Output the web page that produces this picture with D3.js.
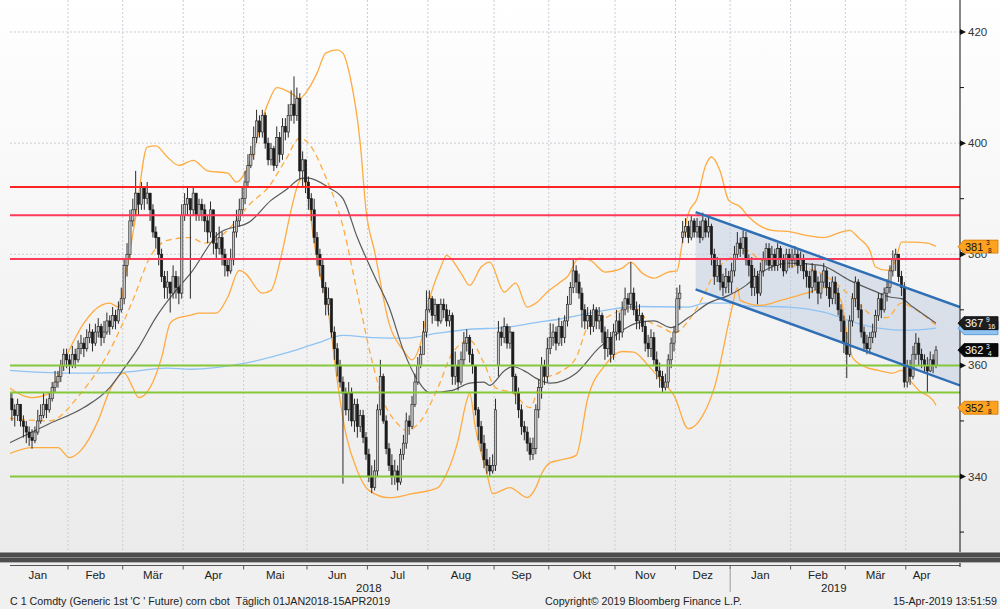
<!DOCTYPE html>
<html><head><meta charset="utf-8">
<script src="https://cdn.jsdelivr.net/npm/d3@7"></script>
<style>
html,body{margin:0;padding:0;background:#f0f0f0;}
svg{display:block;font-family:"Liberation Sans",Arial,sans-serif;}
</style>
</head><body>
<svg id="c" width="1000" height="609"></svg>
<script>
// ---------------- DATA ----------------
const monthLabels = ["Jan","Feb","Mär","Apr","Mai","Jun","Jul","Aug","Sep","Okt","Nov","Dez","Jan","Feb","Mär","Apr"];
const monthDays   = [21,19,21,21,22,21,21,23,19,23,21,19,21,19,21,11];   // trading days per month
const yearLabels  = ["2018","2019"];
const yearMonths  = [12,4];                                             // months belonging to each year

const closes = [
 // Jan 18
 354,352,351,353,350,349,348,347,346.5,348,350,351,353,352,354,356,357,358,360,362,361,
 // Feb
 360,362,361,363,364,363,365,366,364,366,367,365,366,368,367,369,368,370,372,
 // Mar
 378,380,386,388,391,389,392,390,391,388,384,383,380,376,374,375,373,376,374,373,387,
 // Apr
 389,390,388,391,387,389,388,386,384,388,382,381,383,380,378,377,379,384,386,388,390,
 // Mai
 393,396,398,401,404,402,405,400,397,399,396,401,398,403,402,405,407,405,408,395,397,393,
 // Jun
 390,388,383,380,378,374,371,372,366,363,360,357,355,352,355,350,353,349,351,347,344,
 // Jul
 340,338,341,352,358,350,345,342,340,341,339,344,346,350,349,353,357,360,362,366,370,
 // Aug
 372,369,371,368,371,370,368,369,358,360,357,361,364,365,362,360,352,349,346,343,342,341,342,
 // Sep
 352,366,365,367,364,366,358,355,352,349,348,346,344,345,352,356,360,358,363,
 // Okt
 365,366,364,367,365,368,371,374,377,375,373,370,368,369,367,370,368,369,366,363,365,362,366,
 // Nov
 368,366,370,372,371,373,370,368,369,367,364,363,365,361,359,358,356,357,361,364,366,
 // Dez
 372,373,384,385,383,386,384,385,383,386,384,385,380,376,378,375,374,376,375,
 // Jan 19
 377,380,382,381,383,379,378,374,376,373,377,379,381,378,380,378,381,379,377,380,379,
 // Feb
 379,380,378,379,377,376,374,377,375,373,375,377,374,372,375,373,370,368,364,
 // Mär
 362,368,372,375,370,366,364,363,365,366,369,372,370,373,374,377,379,380,376,374,357,
 // Apr
 360,358,362,364,362,361,360,359,361,360,362.75
];
const highs = [
 356,355,353,354,353,351,350,349,348.5,349,352,353,355,354,355,357,359,359,361,363,363,
 362,363.5,363,364.5,365.5,365,366.5,367.5,366.5,367.5,368.5,367.5,368,369.5,369,370.5,370,371.5,374,
 379,382,388,390,395,391,393,392,393,390,389,385,383,381,377,377,375,378,377,376,389,
 391,392,390,392,391,390,390,389,387,389.5,388,384,385,384,381,379,381,386,388,390,392,
 395,398,399.5,403,406,405,406,405.5,401,400,399.5,403,402,404.5,404.5,407,409.5,412,410,409,398.5,397,
 394,391,390,384,381,379,375,374,372,367,364,361,358,356,357,356,354,354,352,352,348,
 345,342,343,353,361,358.5,351,346,344,343,342,345,347.5,351.5,351,354.5,358.5,361.5,363.5,368,373.5,
 373.5,372.5,372,371,372,372,371,370,369.5,362.5,361,362.5,366,366.5,365.5,363,360,352.5,350,347.5,345,343.5,344,
 354,368,367,368.6,367.5,367,366,358.5,356,353,350,349,347,347,353,357.5,361.5,361,365,
 367.6,367.5,367,368.6,368,369,372.5,375,379.3,378,376.5,374,371,370.5,370,371,370.5,370.5,369.5,367,366.5,366,367.5,
 370,369.5,371.5,374,373,378.6,374,371.5,371,369.5,368,365.5,366.5,366,362.5,360.5,359,358.5,362,365,367,
 374,374.5,386,386.5,386,387,386.5,386.5,386,387.5,386.5,387,385.5,381,379.5,379,376.5,377.5,377,
 378.5,381.5,384,383,384.3,384,380,379.5,377.5,377,378.5,380.5,382,382,381.5,381,382,381.5,380,381,381,
 381,381.5,381,380.5,380,378.4,377,378.4,378,376,376.5,378.4,377.5,375,376,376,374,371,369,
 366,369,373,376,375.5,371,367,365.5,366,367.5,370,373,373,374,375.5,378,380.7,381,380,377,375,
 361,361,363.5,365.8,365,363,362,361.5,362.5,362,363.5
];
const lows = [
 352,350,349,350,349,347,346,345.5,345,346,347.5,349.5,350.5,350.5,351.5,353.5,355,356,357,359,359.5,
 358.5,359.5,359.5,360.5,362,361.5,362.5,364,362.5,363.5,365,363.5,364,365.5,365.5,366.5,366.5,367.5,369.5,
 371,376,379,385,387,387,388,388,389,386,383,381,378,375,372,372,369.5,372,372,371,372,
 386,387,372,387,386,386,386,384,382,383,380,379,380,378,376,376,376.5,378,383,385,387,
 389,392,395.5,397,400,401,401,399,396,396,395,395.5,396.5,397,400.5,401,404,403.5,404,393.5,392,391,
 388,386,382,378,376,373,369,369,365,361,358,356,338.7,351,350,349,348,347,348,346,343,
 339,337,337.5,340,351,349.5,344,341,338.5,338.5,337.5,338.5,343,345,347.5,348.5,352.5,356.5,359.5,362,365,
 369.5,367.5,368,367,367.5,368.5,367,367,356.5,356.5,355.5,356.5,360,362.5,360.5,358.5,351,346.5,344.5,341.5,340.5,340,340.5,
 341,358,363.5,364,363,363,355,353,350.5,347.5,346.5,344.5,342.9,343,344,350.5,354,356.5,357,
 362,363.5,362.7,363.5,363.5,364,367,371,373,373,372,366.8,366.5,366.5,365.5,366,366.5,366.5,364,361,361.5,360.5,361,
 364.5,364.5,365,369,369.5,370,369,366.5,366.5,366,362.5,361.5,361.5,360,357.5,356,355.2,355.5,356,359.5,362.5,
 366,370,382,383,382,382.5,383,383,382,382.5,383,383,378,374.5,375,373.5,372.5,373,373,
 373,376,379,379.5,380,378,376,372.5,372.5,371,372.5,376,378,377,377,377,377,377.5,376,376.5,377.5,
 377.5,378,376.5,377,375.5,374,372,373,373.5,371,372,374,372.5,370.5,371,371,369,366,362.2,
 357.7,361.5,367,370.5,368.5,365,362.5,362,362,364,365,368,368.5,369.5,371.5,373,376,377,375,372.5,356,
 356,356.5,357.5,361,360,359.5,358.6,355,358.8,358.6,359.5
];
const openGaps = [[0,355],[170,360],[234,383]];   // [day index, opening price] where open != previous close

// indicators: [day index, value]
const ma50 = [[0,346],[14,349.5],[26,352.4],[35,356],[40,359.5],[45,363.2],[51,368.6],[58,373.5],[63,376.5],[73,383.8],[84,386],[91,389.7],[96,391.5],[102,393.7],[104,393.7],[111,392],[116,390],[121,383],[127,376],[132,370.5],[137,362.7],[142,357.3],[146,355.1],[154,355.5],[160,356.8],[165,357],[167,356.4],[172,359],[175,359.8],[180,358.7],[183,357.7],[188,356.8],[197,358.6],[205,363.2],[213,366.3],[218,367.6],[224,368],[230,366.8],[236,368.6],[243,371.2],[250,372.6],[256,374.4],[261,376.6],[271,378.4],[282,378],[292,375.3],[300,373.5],[306,372.3],[310,372],[314,370.5],[322,367.6]];
const ma200 = [[0,359.1],[20,358.6],[38,358.7],[55,359.5],[63,359.3],[82,360.4],[96,362.2],[107,364],[116,365.4],[127,365],[137,364.9],[149,365.8],[160,366.5],[172,366.8],[183,367.7],[191,368.3],[207,369.9],[218,370.6],[236,370.5],[242,371.2],[250,371.2],[256,370.7],[271,370.5],[283,369.6],[294,367.7],[302,366.7],[312,366.3],[322,366.7]];
const bbMid = [[0,350.5],[14,350],[25,355],[35,362.7],[43,371.7],[49,379.5],[55,382.5],[63,383],[68,382],[73,383],[77,384.9],[84,389.2],[90,392],[96,396.9],[101,400.9],[104,400],[110,393.9],[116,385],[121,373],[126,361],[130,353.7],[135,349.5],[138,348.3],[143,350],[149,356],[154,362.2],[160,364.5],[165,360.4],[169,356],[175,355],[181,352.4],[185,357.3],[191,358.7],[197,361.4],[201,366.8],[207,368.5],[213,370],[217,370.5],[222,368],[227,366.8],[231,365.8],[236,368],[241,372.3],[245,376.6],[251,379.5],[256,380.7],[261,379],[271,378],[282,376.6],[289,374],[295,371.2],[300,369],[305,368.6],[310,371.2],[315,370],[322,367.2]];
const bbUpper = [[0,356],[8,354.2],[14,355],[20,361.8],[26,367.6],[32,370.8],[35,371.2],[38,370.5],[41,377.7],[44,386.7],[48,399.3],[51,399.5],[55,397.5],[59,396],[64,396.9],[69,395],[76,394.6],[79,393],[83,395.7],[90,407.2],[93,410],[98,409],[101,408],[103,409],[107,412.6],[110,416.2],[114,416.8],[116,416.2],[118.5,411.9],[122,400],[124,388],[127,380.5],[132,367.6],[137,362.7],[140,361],[143,364],[146,371.7],[150,377.7],[152,379.8],[157,376.6],[160,374.4],[164,377.7],[167,378.6],[172,373.2],[176,374.8],[180,370.5],[183,371.2],[187,373.2],[191,374.8],[194,376],[198,379.3],[202,378.9],[207,376.8],[213,377.5],[216,378.6],[220,376.6],[224,375.7],[229,376.8],[232,377],[234,382.5],[236,387.4],[239,390],[242,396],[244,397.5],[247,395],[250,389.7],[254,388.5],[257,386.7],[265,384.3],[272,384],[277,383.4],[283,383],[289,384],[292,384.3],[295,383],[299,380.7],[301,377.7],[305,377.1],[308,378.9],[310,382.2],[314,382.2],[319,382],[322,381.4]];
const bbLower = [[0,344.1],[8,345.2],[17,345.2],[21,343.4],[25,344.7],[31,350.1],[35,355.5],[40,358.6],[43,356],[45,354.2],[49,356],[53,361.4],[56,367.6],[59,368.6],[63,369],[66,369.4],[72,369.4],[76,372.3],[80,377.1],[82,376.6],[88,373],[91,373.5],[95,380.7],[98,388],[101,393.3],[102,393.7],[104,391.5],[105,386],[107,379],[111,369.4],[114,357.3],[117,347.7],[121,341],[125,337.5],[132,336.2],[140,336.9],[149,338],[152,340.5],[156,346.5],[159,353.7],[160,355],[162,348.8],[166,340.5],[168,336.9],[174,338],[180,336.2],[183,338],[185,340.5],[188,342.5],[191,342.9],[197,343.8],[201,354],[207,360],[213,362.5],[217,362.4],[222,360],[227,357],[231,354.6],[236,348.6],[241,351],[245,356],[251,370],[253,374],[254,371.7],[261,370.8],[268,371.7],[277,373],[284,374],[289,371.7],[291,365.8],[293,361.4],[298,359.6],[302,359.1],[307,358.6],[310,359.1],[313,357.3],[316,355.5],[321,353.7],[322,352.8]];

const redLevels   = [392.1, 387.0, 379.15];
const greenLevels = [360.0, 355.1, 340.0];
const channelDays  = [238.5, 330.3];
const channelUpper = [387.6, 370.5];
const channelLower = [373.7, 356.4];

const axisTicks  = [340,360,380,400,420];
const minorTicks = [330,350,370,390,410];

const tagValues = [381.375, 366.7, 367.6, 362.75, 352.375];
const tagInts   = ["381","","367","362","352"];
const tagNum    = ["3","","9","3","3"];
const tagDen    = ["8","","16","4","8"];
const tagKinds  = ["orange","blue","dark","black","orange"];

const footerLeft   = "C 1 Comdty (Generic 1st 'C ' Future) corn cbot\u00a0\u00a0Täglich 01JAN2018-15APR2019";
const footerMiddle = "Copyright© 2019 Bloomberg Finance L.P.";
const footerRight  = "15-Apr-2019 13:51:59";

// ---------------- CHART ----------------
const W = 1000, H = 609;
const plot = {left: 10, right: 960, top: 0, bottom: 551};
const N = closes.length;
const x = d3.scaleLinear().domain([0, N - 1]).range([9, 936]);
const y = d3.scaleLinear().domain([340, 420]).range([476.5, 32]);
const step = x(1) - x(0);

const svg = d3.select("#c");
const defs = svg.append("defs");
const grad = defs.append("linearGradient").attr("id","bg").attr("x1",0).attr("y1",0).attr("x2",0).attr("y2",1);
grad.append("stop").attr("offset","0%").attr("stop-color","#ffffff");
grad.append("stop").attr("offset","8%").attr("stop-color","#fdfdfd");
grad.append("stop").attr("offset","100%").attr("stop-color","#ebebeb");
defs.append("clipPath").attr("id","clip").append("rect")
  .attr("x",plot.left).attr("y",plot.top).attr("width",plot.right-plot.left).attr("height",plot.bottom-plot.top);

svg.append("rect").attr("width",W).attr("height",H).attr("fill","#f0f0f0");
svg.append("rect").attr("x",0).attr("y",0).attr("width",W).attr("height",plot.bottom).attr("fill","url(#bg)");

// month starts
const monthStart = [];
let acc = 0;
monthDays.forEach(d => { monthStart.push(acc); acc += d; });
const boundaryX = i => x(i) - step / 2;

const g = svg.append("g").attr("clip-path","url(#clip)");

// grid
g.selectAll(".vg").data(monthStart.slice(1)).join("line")
  .attr("x1",d=>boundaryX(d)).attr("x2",d=>boundaryX(d))
  .attr("y1",plot.top).attr("y2",plot.bottom)
  .attr("stroke","#c9cdd6").attr("stroke-width",1).attr("stroke-dasharray","2,2");
g.selectAll(".hg").data(axisTicks).join("line")
  .attr("x1",plot.left).attr("x2",plot.right).attr("y1",d=>y(d)).attr("y2",d=>y(d))
  .attr("stroke","#c9cdd6").attr("stroke-width",1).attr("stroke-dasharray","2,2");

// channel fill
const chPoly = [
  [x(channelDays[0]), y(channelUpper[0])],
  [x(channelDays[1]), y(channelUpper[1])],
  [x(channelDays[1]), y(channelLower[1])],
  [x(channelDays[0]), y(channelLower[0])]
];
g.append("path").attr("d","M" + chPoly.map(p=>p.join(",")).join("L") + "Z")
  .attr("fill","#b7c7de").attr("fill-opacity",0.45);

// indicator lines
const lineGen = d3.line().x(d=>x(d[0])).y(d=>y(d[1])).curve(d3.curveMonotoneX);
g.append("path").attr("d",lineGen(ma200)).attr("fill","none").attr("stroke","#8fc3f2").attr("stroke-width",1.3);
g.append("path").attr("d",lineGen(bbUpper)).attr("fill","none").attr("stroke","#ffab40").attr("stroke-width",1.3);
g.append("path").attr("d",lineGen(bbLower)).attr("fill","none").attr("stroke","#ffab40").attr("stroke-width",1.3);
g.append("path").attr("d",lineGen(bbMid)).attr("fill","none").attr("stroke","#ffab40").attr("stroke-width",1.3).attr("stroke-dasharray","6,4");
g.append("path").attr("d",lineGen(ma50)).attr("fill","none").attr("stroke","#5a5a5a").attr("stroke-width",1.2);

// candles
const gapMap = new Map(openGaps);
const candles = closes.map((c,i) => {
  const o = gapMap.has(i) ? gapMap.get(i) : closes[i-1];
  return {i, o, c, h: Math.max(highs[i], o, c), l: Math.min(lows[i], o, c)};
});
const cg = g.append("g");
cg.selectAll(".wick").data(candles).join("line")
  .attr("x1",d=>x(d.i)).attr("x2",d=>x(d.i)).attr("y1",d=>y(d.h)).attr("y2",d=>y(d.l))
  .attr("stroke","#2a2a2a").attr("stroke-width",1);
const bw = 2.3;
cg.selectAll(".body").data(candles).join("rect")
  .attr("x",d=>x(d.i)-bw/2).attr("width",bw)
  .attr("y",d=>y(Math.max(d.o,d.c)))
  .attr("height",d=>Math.max(1, Math.abs(y(d.o)-y(d.c))))
  .attr("fill",d=>d.c>=d.o ? "#c4c4c4" : "#1b1b1b")
  .attr("stroke","#1b1b1b").attr("stroke-width",0.6);

// horizontal levels
const redColors = ["#ff2424","#ff3a5a","#ff3a5a"];
g.selectAll(".red").data(redLevels).join("line")
  .attr("x1",plot.left).attr("x2",plot.right).attr("y1",d=>y(d)).attr("y2",d=>y(d))
  .attr("stroke",(d,i)=>redColors[i]).attr("stroke-width",2);
g.selectAll(".green").data(greenLevels).join("line")
  .attr("x1",plot.left).attr("x2",plot.right).attr("y1",d=>y(d)).attr("y2",d=>y(d))
  .attr("stroke","#86c83a").attr("stroke-width",2);

// channel borders
[channelUpper, channelLower].forEach(arr => {
  g.append("line")
    .attr("x1",x(channelDays[0])).attr("y1",y(arr[0]))
    .attr("x2",x(channelDays[1])).attr("y2",y(arr[1]))
    .attr("stroke","#2f6fb5").attr("stroke-width",2.4);
});

// right axis
svg.append("line").attr("x1",plot.right).attr("x2",plot.right).attr("y1",0).attr("y2",567)
  .attr("stroke","#111").attr("stroke-width",1);
svg.selectAll(".mt").data(minorTicks).join("line")
  .attr("x1",plot.right).attr("x2",plot.right+4).attr("y1",d=>y(d)).attr("y2",d=>y(d))
  .attr("stroke","#111");
svg.selectAll(".tri").data(axisTicks).join("path")
  .attr("d",d=>`M${plot.right},${y(d)-3}L${plot.right+6},${y(d)}L${plot.right},${y(d)+3}Z`)
  .attr("fill","#111");
svg.selectAll(".tl").data(axisTicks).join("text")
  .attr("x",plot.right+8).attr("y",d=>y(d)+4)
  .attr("font-size",11.5).attr("fill","#333").text(d=>d);

// price tags
const tagStyle = {
  orange: {fill:"#ffa21f", stroke:"#d07a00", text:"#111"},
  blue:   {fill:"#8fc3f2", stroke:"#4f8fd0", text:"#111"},
  dark:   {fill:"#1e1e1e", stroke:"#000", text:"#fff"},
  black:  {fill:"#0a0a0a", stroke:"#000", text:"#fff"}
};
tagValues.forEach((v,k) => {
  const st = tagStyle[tagKinds[k]];
  const cy = y(v);
  const tg = svg.append("g");
  tg.append("path")
    .attr("d",`M${plot.right-2},${cy}L${plot.right+4},${cy-6.5}L998,${cy-6.5}L998,${cy+6.5}L${plot.right+4},${cy+6.5}Z`)
    .attr("fill",st.fill).attr("stroke",st.stroke).attr("stroke-width",0.8);
  if (tagInts[k]) {
    tg.append("text").attr("x",plot.right+5).attr("y",cy+4.2).attr("font-size",11).attr("fill",st.text).text(tagInts[k]);
    tg.append("text").attr("x",plot.right+26).attr("y",cy-1.5).attr("font-size",6.5).attr("fill",st.text).text(tagNum[k]);
    tg.append("text").attr("x",plot.right+28).attr("y",cy+6.3).attr("font-size",6.5).attr("fill",st.text).text(tagDen[k]);
  }
});

// bottom band (scroll bar)
svg.append("rect").attr("x",0).attr("y",552).attr("width",W).attr("height",10).attr("fill","#4d4d4d");
svg.append("line").attr("x1",0).attr("x2",W).attr("y1",552.5).attr("y2",552.5).attr("stroke","#9a9a9a");
svg.append("line").attr("x1",0).attr("x2",W).attr("y1",557.5).attr("y2",557.5).attr("stroke","#8a8a8a");
svg.append("line").attr("x1",0).attr("x2",W).attr("y1",562.5).attr("y2",562.5).attr("stroke","#b0b0b0");
svg.append("line").attr("x1",plot.left).attr("x2",plot.right).attr("y1",565.5).attr("y2",565.5).attr("stroke","#555");

// x axis ticks and labels
svg.selectAll(".xt").data(monthStart.slice(1)).join("line")
  .attr("x1",d=>boundaryX(d)).attr("x2",d=>boundaryX(d)).attr("y1",565).attr("y2",569.5)
  .attr("stroke","#555");
svg.selectAll(".xl").data(monthLabels).join("text")
  .attr("x",(d,k)=>(boundaryX(monthStart[k]) + boundaryX(monthStart[k] + monthDays[k]))/2)
  .attr("y",579).attr("text-anchor","middle").attr("font-size",11.5).attr("fill","#222").text(d=>d);

// years
let mAcc = 0;
yearLabels.forEach((lab,k) => {
  const i0 = monthStart[mAcc];
  const lastM = mAcc + yearMonths[k] - 1;
  const i1 = monthStart[lastM] + monthDays[lastM];
  const cx = (boundaryX(i0) + Math.min(boundaryX(i1), plot.right)) / 2;
  svg.append("text").attr("x",cx).attr("y",592).attr("text-anchor","middle")
    .attr("font-size",11.5).attr("fill","#222").text(lab);
  if (k > 0) {
    svg.append("line").attr("x1",boundaryX(i0)).attr("x2",boundaryX(i0)).attr("y1",570).attr("y2",592)
      .attr("stroke","#999");
  }
  mAcc += yearMonths[k];
});

// footer
svg.append("text").attr("x",10).attr("y",605).attr("font-size",10.7).attr("fill","#222").text(footerLeft);
svg.append("text").attr("x",545).attr("y",605).attr("font-size",10.7).attr("fill","#222").text(footerMiddle);
svg.append("text").attr("x",997).attr("y",605).attr("text-anchor","end").attr("font-size",10.7).attr("fill","#222").text(footerRight);
</script>
</body></html>
